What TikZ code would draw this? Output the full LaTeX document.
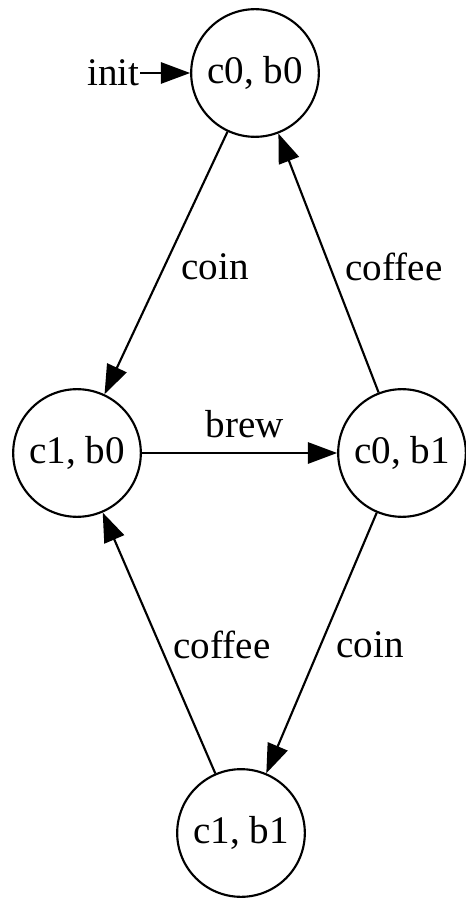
\documentclass[tikz,border=0pt]{standalone}
\usepackage{fontspec}
\setmainfont{Liberation Serif}
\usetikzlibrary{arrows.meta}
\begin{document}
\begin{tikzpicture}[x=0.376pt, y=-0.376pt,
  every node/.style={font=\fontsize{14.7pt}{17pt}\selectfont},
  state/.style={circle, draw, line width=0.8pt, minimum size=48pt, inner sep=0pt},
  trans/.style={line width=0.8pt, -{Triangle[length=11pt, width=8pt]}},
  lbl/.style={inner sep=1pt}]
  \useasboundingbox (0,0) rectangle (466,898);
  % states
  \node[state] (s00) at (255,73) {c0, b0};
  \node[state] (s10) at (77,453) {c1, b0};
  \node[state] (s01) at (402,453) {c0, b1};
  \node[state] (s11) at (241,833) {c1, b1};
  % initial marker
  \node[inner sep=0pt, anchor=east] (init) at (140,73) {init};
  \draw[trans] (init) -- (s00);
  % transitions
  \draw[trans] (s00) -- (s10);
  \draw[trans] (s10) -- (s01);
  \draw[trans] (s01) -- (s00);
  \draw[trans] (s01) -- (s11);
  \draw[trans] (s11) -- (s10);
  % transition labels
  \node[lbl] (lcoin1) at (215,267) {coin};
  \node[lbl] (lbrew) at (245,424) {brew};
  \node[lbl] (lcof1) at (394,267) {coffee};
  \node[lbl] (lcof2) at (222,645) {coffee};
  \node[lbl] (lcoin2) at (370,645) {coin};
\end{tikzpicture}
\end{document}
